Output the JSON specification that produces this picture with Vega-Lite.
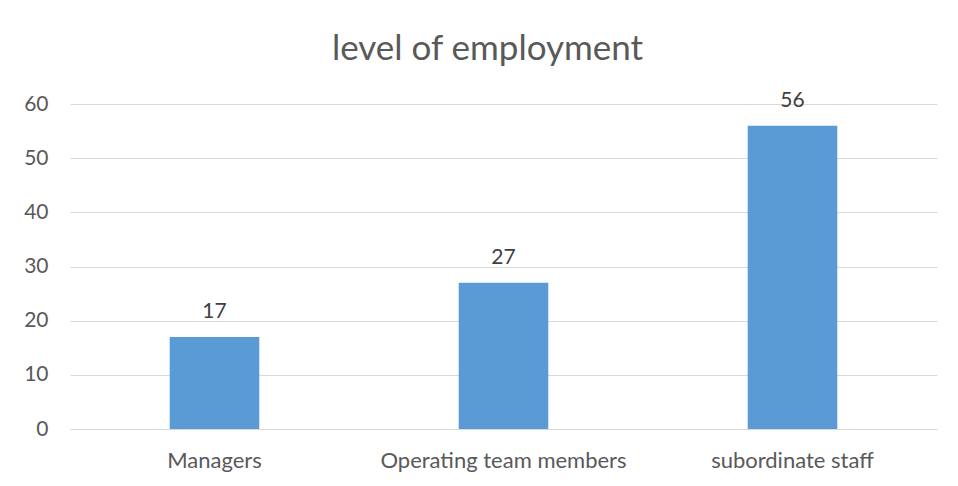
{
  "$schema": "https://vega.github.io/schema/vega-lite/v6.json",
  "autosize": "none",
  "width": 867,
  "height": 325,
  "padding": {"left": 70, "top": 104, "right": 21, "bottom": 57},
  "background": "white",
  "title": {
    "text": "level of employment",
    "font": "Lato",
    "fontSize": 35,
    "fontWeight": "normal",
    "color": "#595959",
    "anchor": "middle",
    "dx": -16,
    "offset": 23
  },
  "data": {
    "values": [
      {"level": "Managers", "count": 17},
      {"level": "Operating team members", "count": 27},
      {"level": "subordinate staff", "count": 56}
    ]
  },
  "encoding": {
    "x": {
      "field": "level",
      "type": "nominal",
      "sort": null,
      "scale": {"paddingInner": 0.69, "paddingOuter": 0.345},
      "axis": {
        "title": null,
        "labelAngle": 0,
        "labelLimit": 0,
        "ticks": false,
        "domain": true,
        "domainColor": "#D9D9D9",
        "domainWidth": 1,
        "labelFont": "Lato",
        "labelFontSize": 22,
        "labelColor": "#595959",
        "labelPadding": 21
      }
    },
    "y": {
      "field": "count",
      "type": "quantitative",
      "scale": {"domain": [0, 60]},
      "axis": {
        "title": null,
        "values": [0, 10, 20, 30, 40, 50, 60],
        "ticks": false,
        "domain": false,
        "grid": true,
        "gridColor": "#D9D9D9",
        "gridWidth": 1,
        "labelFont": "Lato",
        "labelFontSize": 21,
        "labelColor": "#595959",
        "labelPadding": 22
      }
    }
  },
  "layer": [
    {"mark": {"type": "bar", "color": "#5B9BD5"}},
    {
      "mark": {
        "type": "text",
        "baseline": "bottom",
        "dy": -15,
        "font": "Lato",
        "fontSize": 21,
        "color": "#404040"
      },
      "encoding": {"text": {"field": "count", "type": "quantitative"}}
    }
  ],
  "config": {"view": {"stroke": null}}
}
